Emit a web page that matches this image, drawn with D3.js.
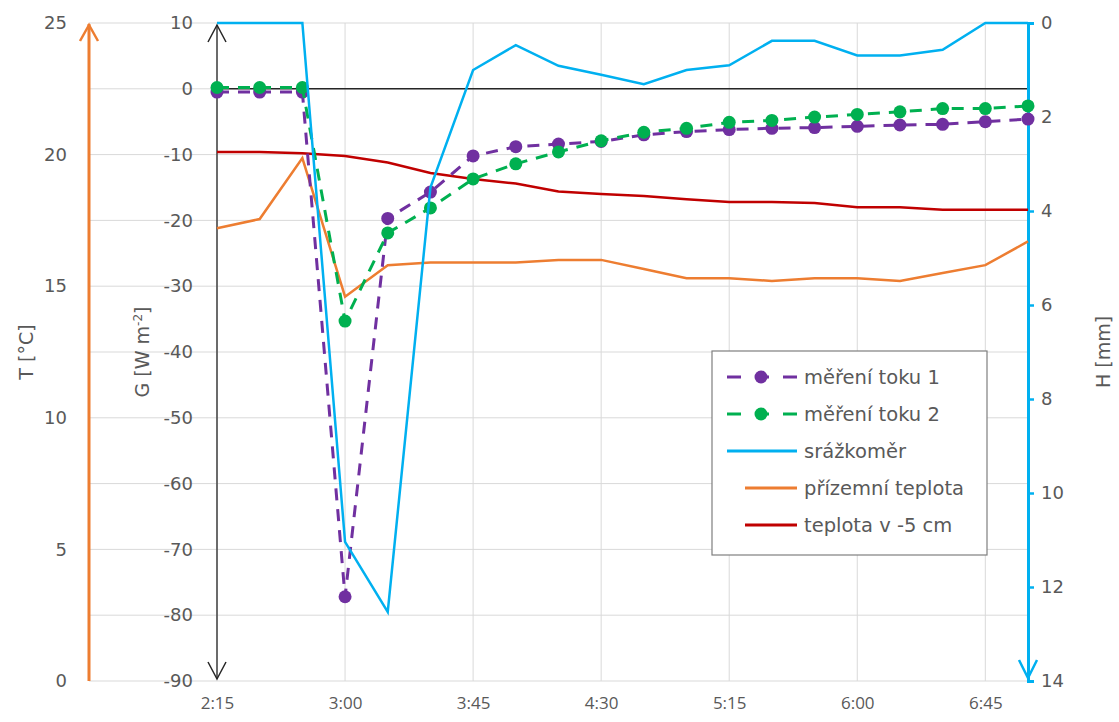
<!DOCTYPE html>
<html>
<head>
<meta charset="utf-8">
<script src="https://cdn.jsdelivr.net/npm/d3@7"></script>
<style>
  body { margin: 0; background: #fff; }
  svg { font-family: "DejaVu Sans", "Open Sans", sans-serif; }
</style>
</head>
<body>
<div class="chart"></div>
<script>
// time categories, 15 min step
const times = ["2:15", "2:30", "2:45", "3:00", "3:15", "3:30", "3:45", "4:00", "4:15", "4:30",
  "4:45", "5:00", "5:15", "5:30", "5:45", "6:00", "6:15", "6:30", "6:45", "7:00"];
const xLabels = ["2:15", "3:00", "3:45", "4:30", "5:15", "6:00", "6:45"];

// heat flux G [W m-2]
const flux1 = [-0.5, -0.5, -0.5, -77.2, -19.7, -15.7, -10.2, -8.8, -8.4, -8.0,
  -7.0, -6.5, -6.2, -6.0, -5.9, -5.7, -5.5, -5.4, -5.0, -4.6];
const flux2 = [0.2, 0.2, 0.2, -35.3, -21.9, -18.1, -13.7, -11.4, -9.6, -7.9,
  -6.6, -6.0, -5.1, -4.8, -4.3, -3.9, -3.5, -3.0, -3.0, -2.6];
// rain gauge H [mm]
const rain = [0, 0, 0, 11.04, 12.53, 3.5, 1.0, 0.47, 0.91, 1.1,
  1.3, 1.0, 0.9, 0.38, 0.38, 0.69, 0.69, 0.57, 0, 0];
// temperatures T [°C]
const tSurface = [17.2, 17.55, 19.87, 14.6, 15.8, 15.9, 15.9, 15.9, 16.0, 16.0,
  15.65, 15.3, 15.3, 15.2, 15.3, 15.3, 15.2, 15.5, 15.8, 16.7];
const tSoil = [20.1, 20.1, 20.05, 19.95, 19.7, 19.3, 19.07, 18.9, 18.6, 18.5,
  18.43, 18.3, 18.2, 18.2, 18.16, 18.0, 18.0, 17.9, 17.9, 17.9];

const tTicks = [0, 5, 10, 15, 20, 25];
const gTicks = [10, 0, -10, -20, -30, -40, -50, -60, -70, -80, -90];
const hTicks = [0, 2, 4, 6, 8, 10, 12, 14];

const width = 1119;
const height = 722;
const plotLeft = 217, plotRight = 1028, plotTop = 23, plotBottom = 681;

const svg = d3.select(".chart").append("svg")
  .attr("width", width)
  .attr("height", height);

const x = d3.scalePoint().domain(times).range([plotLeft, plotRight]).padding(0);
const yG = d3.scaleLinear().domain([-90, 10]).range([plotBottom, plotTop]);
const yT = d3.scaleLinear().domain([0, 25]).range([plotBottom, plotTop]);
const yH = d3.scaleLinear().domain([0, 14]).range([plotTop, plotBottom]);

const textColor = "#595959";
const gridColor = "#d9d9d9";

// gridlines
svg.append("g").selectAll("line").data(gTicks).enter().append("line")
  .attr("x1", 89).attr("x2", plotRight)
  .attr("y1", (d) => yG(d)).attr("y2", (d) => yG(d))
  .attr("stroke", gridColor).attr("stroke-width", 1);
svg.append("g").selectAll("line").data(xLabels).enter().append("line")
  .attr("x1", (d) => x(d)).attr("x2", (d) => x(d))
  .attr("y1", plotTop).attr("y2", plotBottom)
  .attr("stroke", gridColor).attr("stroke-width", 1);

// zero line
svg.append("line")
  .attr("x1", plotLeft).attr("x2", plotRight)
  .attr("y1", yG(0)).attr("y2", yG(0))
  .attr("stroke", "#262626").attr("stroke-width", 1.5);

// left T axis (orange, arrow up)
const tAxis = svg.append("g").attr("transform", "translate(67,0)")
  .call(d3.axisLeft(yT).tickValues(tTicks).tickSize(0).tickPadding(0));
tAxis.select(".domain").remove();
tAxis.selectAll("text").attr("fill", textColor).attr("font-size", "18px")
  .attr("font-family", "DejaVu Sans");

svg.append("line").attr("x1", 89).attr("x2", 89).attr("y1", plotTop + 1).attr("y2", plotBottom)
  .attr("stroke", "#ED7D31").attr("stroke-width", 3);
svg.append("path").attr("d", "M80,41L89,25L98,41")
  .attr("fill", "none").attr("stroke", "#ED7D31").attr("stroke-width", 2.5);

// G axis (black, arrows both ends)
const gAxis = svg.append("g").attr("transform", "translate(193,0)")
  .call(d3.axisLeft(yG).tickValues(gTicks).tickSize(0).tickPadding(0)
    .tickFormat((d) => (d < 0 ? "-" + Math.abs(d) : d)));
gAxis.select(".domain").remove();
gAxis.selectAll("text").attr("fill", textColor).attr("font-size", "18px")
  .attr("font-family", "DejaVu Sans");

svg.append("line").attr("x1", plotLeft).attr("x2", plotLeft)
  .attr("y1", plotTop + 2).attr("y2", plotBottom - 2)
  .attr("stroke", "#404040").attr("stroke-width", 1.5);
svg.append("path").attr("d", "M208,42L217,25L226,42M208,662L217,679L226,662")
  .attr("fill", "none").attr("stroke", "#262626").attr("stroke-width", 1.5);

// H axis (blue, reversed, arrow down)
const hAxis = svg.append("g").attr("transform", "translate(" + plotRight + ",0)")
  .call(d3.axisRight(yH).tickValues(hTicks).tickSize(6).tickPadding(7));
hAxis.select(".domain").attr("stroke", "#00B0F0").attr("stroke-width", 3);
hAxis.selectAll(".tick line").attr("stroke", "#00B0F0").attr("stroke-width", 2.5);
hAxis.selectAll("text").attr("fill", textColor).attr("font-size", "18px")
  .attr("font-family", "DejaVu Sans");
svg.append("path").attr("d", "M1019,660L1028,678L1037,660")
  .attr("fill", "none").attr("stroke", "#00B0F0").attr("stroke-width", 2.5);

// x axis labels
const xAxis = svg.append("g").attr("transform", "translate(0," + plotBottom + ")")
  .call(d3.axisBottom(x).tickValues(xLabels).tickSize(0).tickPadding(16));
xAxis.select(".domain").remove();
xAxis.selectAll("text").attr("fill", textColor).attr("font-size", "17px")
  .attr("font-family", "Open Sans");

// axis titles
svg.append("text").attr("transform", "translate(33,352) rotate(-90)")
  .attr("text-anchor", "middle").attr("fill", textColor).attr("font-size", "19px")
  .text("T [°C]");
const gTitle = svg.append("text").attr("transform", "translate(149,352) rotate(-90)")
  .attr("text-anchor", "middle").attr("fill", textColor).attr("font-size", "19px");
gTitle.append("tspan").text("G [W m");
gTitle.append("tspan").attr("dy", -7).attr("font-size", "12px").text("-2");
gTitle.append("tspan").attr("dy", 7).text("]");
svg.append("text").attr("transform", "translate(1110,352) rotate(-90)")
  .attr("text-anchor", "middle").attr("fill", textColor).attr("font-size", "19px")
  .text("H [mm]");

// series
const lineT = d3.line().x((d, i) => x(times[i])).y((d) => yT(d));
const lineG = d3.line().x((d, i) => x(times[i])).y((d) => yG(d));
const lineH = d3.line().x((d, i) => x(times[i])).y((d) => yH(d));

svg.append("path").datum(tSurface).attr("d", lineT)
  .attr("fill", "none").attr("stroke", "#ED7D31").attr("stroke-width", 2.5);
svg.append("path").datum(tSoil).attr("d", lineT)
  .attr("fill", "none").attr("stroke", "#C00000").attr("stroke-width", 2.5);

const measured = [
  { values: flux1, color: "#7030A0" },
  { values: flux2, color: "#00B050" }
];
measured.forEach((s) => {
  svg.append("path").datum(s.values).attr("d", lineG)
    .attr("fill", "none").attr("stroke", s.color).attr("stroke-width", 3)
    .attr("stroke-dasharray", "12,9");
  svg.append("g").selectAll("circle").data(s.values).enter().append("circle")
    .attr("cx", (d, i) => x(times[i]))
    .attr("cy", (d) => yG(d))
    .attr("r", 6.5)
    .attr("fill", s.color);
});

svg.append("path").datum(rain).attr("d", lineH)
  .attr("fill", "none").attr("stroke", "#00B0F0").attr("stroke-width", 2.5);

// legend
const legendItems = [
  { name: "měření toku 1", color: "#7030A0", dashed: true, x0: 727 },
  { name: "měření toku 2", color: "#00B050", dashed: true, x0: 727 },
  { name: "srážkoměr", color: "#00B0F0", dashed: false, x0: 727 },
  { name: "přízemní teplota", color: "#ED7D31", dashed: false, x0: 745 },
  { name: "teplota v -5 cm", color: "#C00000", dashed: false, x0: 745 }
];
const legend = svg.append("g");
legend.append("rect")
  .attr("x", 712).attr("y", 351).attr("width", 275).attr("height", 204)
  .attr("fill", "#fff").attr("stroke", "#7f7f7f").attr("stroke-width", 1.2);

const rows = legend.selectAll("g").data(legendItems).enter().append("g")
  .attr("transform", (d, i) => "translate(0," + (377 + i * 37) + ")");
rows.filter((d) => d.dashed).append("line")
  .attr("x1", 727).attr("x2", 797).attr("y1", 0).attr("y2", 0)
  .attr("stroke", (d) => d.color).attr("stroke-width", 3)
  .attr("stroke-dasharray", "14,14,14,14,14");
rows.filter((d) => d.dashed).append("circle")
  .attr("cx", 761).attr("cy", 0).attr("r", 6.5).attr("fill", (d) => d.color);
rows.filter((d) => !d.dashed).append("line")
  .attr("x1", (d) => d.x0).attr("x2", 797).attr("y1", 0).attr("y2", 0)
  .attr("stroke", (d) => d.color).attr("stroke-width", 3);
rows.append("text")
  .attr("x", 804).attr("y", 0).attr("dy", "0.35em")
  .attr("fill", textColor).attr("font-size", "19.5px")
  .text((d) => d.name);
</script>
</body>
</html>
